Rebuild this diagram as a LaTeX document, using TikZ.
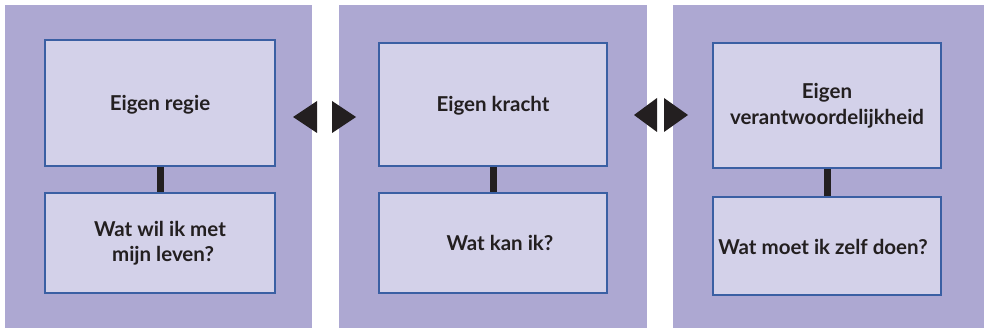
\documentclass[tikz,border=0pt]{standalone}
\usepackage{fontspec}
\setmainfont{Lato}[UprightFont=* Bold]
\definecolor{panelbg}{HTML}{ADA8D2}
\definecolor{boxfill}{HTML}{D3D1E9}
\definecolor{boxline}{HTML}{3A5FA3}
\definecolor{ink}{HTML}{231F20}
% single line set with its baseline a given distance below the box centre
\newcommand{\lowline}[2]{\raisebox{-#1}[0pt][0pt]{#2}}
\begin{document}
\begin{tikzpicture}[x=1pt,y=-1pt,
  panel/.style={fill=panelbg,draw=none},
  card/.style={draw=boxline,fill=boxfill,line width=2pt,minimum width=228pt,
    align=center,text=ink,font=\fontsize{20.5}{25.5}\selectfont,inner sep=0pt},
  link/.style={draw=ink,line width=7pt},
  pointer/.style={fill=ink,draw=none}]
\useasboundingbox (0,0) rectangle (984,328);
\fill[white] (0,0) rectangle (984,328);

% three coloured columns
\path[panel] (5,5) rectangle (312,328);
\path[panel] (339,5) rectangle (647,328);
\path[panel] (673,5) rectangle (984,328);

% column 1
\node[card,minimum width=230pt,minimum height=126pt] (top1) at (160,103) {\lowline{8pt}{Eigen regie}};
\node[card,minimum width=230pt,minimum height=100pt] (bot1) at (160,243) {Wat wil ik met\\\hspace*{6pt}mijn leven?};
\draw[link] (top1.south) -- (bot1.north);

% column 2
\node[card,minimum height=123pt] (top2) at (493,104.5) {\lowline{7.5pt}{Eigen kracht}};
\node[card,minimum height=100pt] (bot2) at (493,243) {\hspace*{14pt}Wat kan ik?};
\draw[link] (top2.south) -- (bot2.north);

% column 3
\node[card,minimum height=125pt] (top3) at (827,105.5) {Eigen\\verantwoordelijkheid};
\node[card,minimum height=98pt] (bot3) at (827,246) {\lowline{9pt}{Wat moet ik zelf doen?\hspace*{8pt}}};
\draw[link] (top3.south) -- (bot3.north);

% pointers between the columns
\path[pointer] (293,117) -- (317,101) -- (317,133) -- cycle;
\path[pointer] (356,117) -- (332,101) -- (332,133) -- cycle;
\path[pointer] (634,115) -- (657,98) -- (657,132) -- cycle;
\path[pointer] (688,115) -- (664,98) -- (664,132) -- cycle;
\end{tikzpicture}
\end{document}
